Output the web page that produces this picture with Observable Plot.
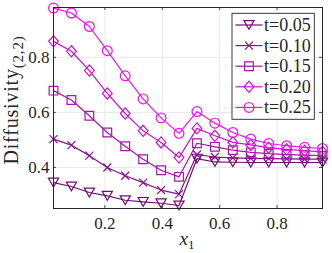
<!DOCTYPE html>
<html><head><meta charset="utf-8">
<script src="https://cdn.jsdelivr.net/npm/d3@7"></script>
<script src="https://cdn.jsdelivr.net/npm/@observablehq/plot@0.6"></script>
<style>body{margin:0;background:#fff} svg{display:block}</style>
</head><body><div id="chart"></div>
<script>
// ---- data ----
const x1 = [0.0208,0.0833,0.1458,0.2083,0.2708,0.3333,0.3958,0.4583,0.5208,0.5833,0.6458,0.7083,0.7708,0.8333,0.8958,0.9583];
const seriesNames = ["t=0.05","t=0.10","t=0.15","t=0.20","t=0.25"];
const t05 = [0.345,0.331,0.309,0.297,0.281,0.275,0.270,0.262,0.432,0.420,0.419,0.418,0.418,0.418,0.418,0.418];
const t10 = [0.503,0.481,0.443,0.400,0.370,0.345,0.318,0.303,0.447,0.438,0.435,0.433,0.432,0.431,0.430,0.430];
const t15 = [0.679,0.645,0.588,0.527,0.477,0.430,0.390,0.366,0.488,0.475,0.463,0.455,0.450,0.447,0.445,0.443];
const t20 = [0.858,0.822,0.752,0.669,0.596,0.533,0.491,0.436,0.542,0.515,0.491,0.482,0.472,0.466,0.461,0.457];
const t25 = [0.979,0.961,0.912,0.824,0.733,0.649,0.580,0.524,0.603,0.561,0.527,0.503,0.487,0.479,0.473,0.469];
const xTicks = [0.2,0.4,0.6,0.8];
const yTicks = [0.4,0.6,0.8];
const colors = ["#6f1070","#861488","#a516a9","#ca12cc","#f010f0"];

// ---- symbols ----
const triDown = {draw(c, size){const a=Math.sqrt(size)*1.15, h=a*0.866; c.moveTo(-a/2,-h/2); c.lineTo(a/2,-h/2); c.lineTo(0,h/2); c.closePath();}};
const times = {draw(c, size){const r=Math.sqrt(size)*0.45; c.moveTo(-r,-r); c.lineTo(r,r); c.moveTo(r,-r); c.lineTo(-r,r);}};
const square = {draw(c, size){const s=Math.sqrt(size)*0.49; c.moveTo(-s,-s); c.lineTo(s,-s); c.lineTo(s,s); c.lineTo(-s,s); c.closePath();}};
const diamond = {draw(c, size){const w=Math.sqrt(size)*0.55, h=Math.sqrt(size)*0.63; c.moveTo(0,-h); c.lineTo(w,0); c.lineTo(0,h); c.lineTo(-w,0); c.closePath();}};
const circle = {draw(c, size){const r=Math.sqrt(size/Math.PI)*0.98; c.moveTo(r,0); c.arc(0,0,r,0,2*Math.PI);}};
const symbols = [triDown, times, square, diamond, circle];

const allSeries = [t05,t10,t15,t20,t25];
const rowsBy = allSeries.map((vals,k)=>vals.map((v,i)=>({x:x1[i], v, series:seriesNames[k]})));

const W=332,H=253,ML=53,MR=10,MT=7,MB=45;
const fw=W-ML-MR, fh=H-MT-MB;
const frameColor="#262626";

const marks = [
  Plot.gridX(xTicks,{stroke:"#e3e3e3", strokeOpacity:1, strokeWidth:0.8}),
  Plot.gridY(yTicks,{stroke:"#e3e3e3", strokeOpacity:1, strokeWidth:0.8}),
  Plot.axisX(xTicks,{tickSize:0, tickPadding:8, label:null, tickFormat:d=>String(d)}),
  Plot.axisY(yTicks,{tickSize:0, tickPadding:4, label:null, tickFormat:d=>String(d)})
];
rowsBy.forEach((rows,k)=>{
  marks.push(Plot.lineY(rows,{x:"x", y:"v", stroke:colors[k], strokeWidth:1.2}));
  marks.push(Plot.dot(rows,{x:"x", y:"v", stroke:colors[k], symbol:symbols[k], r:5, strokeWidth:1.2, fill:"none"}));
});
marks.push(
  Plot.ruleX(xTicks,{x:d=>d, insetBottom:fh-3, stroke:frameColor, strokeWidth:0.8}),
  Plot.ruleX(xTicks,{x:d=>d, insetTop:fh-3, stroke:frameColor, strokeWidth:0.8}),
  Plot.ruleY(yTicks,{y:d=>d, insetRight:fw-3, stroke:frameColor, strokeWidth:0.8}),
  Plot.ruleY(yTicks,{y:d=>d, insetLeft:fw-3, stroke:frameColor, strokeWidth:0.8}),
  Plot.frame({stroke:frameColor, strokeWidth:1})
);

const plot = Plot.plot({
  width:W, height:H, marginLeft:ML, marginRight:MR, marginTop:MT, marginBottom:MB,
  style:{fontFamily:"'Liberation Serif', serif", fontSize:"17px", background:"white", color:"#262626"},
  x:{domain:[x1[0], x1[x1.length-1]]},
  y:{domain:[0.251,0.981]},
  marks
});

const svg = d3.select(plot);
// y label
const yl = svg.append("text").attr("transform","translate(18,100) rotate(-90)")
  .attr("text-anchor","middle").attr("fill","#262626")
  .style("font-family","'Liberation Serif', serif").style("font-size","20px").style("letter-spacing","0.8px");
yl.append("tspan").text("Diffusivity");
yl.append("tspan").attr("dy","5").style("font-size","15px").text("(2,2)");
// x label
const xl = svg.append("text").attr("x",187).attr("y",245).attr("text-anchor","middle").attr("fill","#262626")
  .style("font-family","'Liberation Serif', serif").style("font-size","19px");
xl.append("tspan").style("font-style","italic").text("x");
xl.append("tspan").attr("dy","4").style("font-size","13px").text("1");

// legend
const lg = svg.append("g");
lg.append("rect").attr("x",232).attr("y",13.3).attr("width",82.3).attr("height",106)
  .attr("fill","white").attr("stroke",frameColor).attr("stroke-width",0.9);
seriesNames.forEach((name,k)=>{
  const y = 25 + k*20.6;
  lg.append("line").attr("x1",235.5).attr("x2",262.5).attr("y1",y).attr("y2",y)
    .attr("stroke",colors[k]).attr("stroke-width",1.2);
  lg.append("path").attr("transform",`translate(249,${y})`)
    .attr("d", d3.symbol(symbols[k], Math.PI*25)())
    .attr("fill","none").attr("stroke",colors[k]).attr("stroke-width",1.2);
  lg.append("text").attr("x",264).attr("y",y+6).attr("text-anchor","start").attr("fill","#262626")
    .style("font-family","'Liberation Serif', serif").style("font-size","18px").text(name);
});

document.getElementById("chart").appendChild(plot);
</script>
</body></html>
